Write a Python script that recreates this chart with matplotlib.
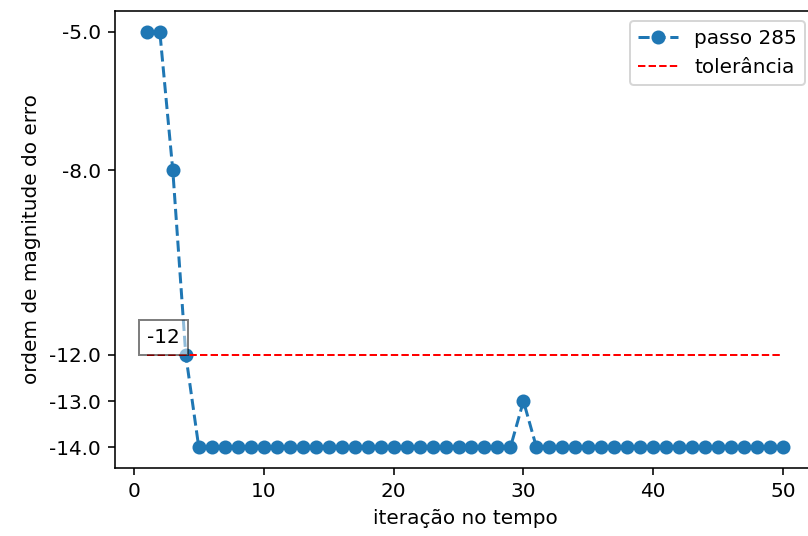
import matplotlib
matplotlib.use("Agg")
import matplotlib.pyplot as plt

# iteracoes no tempo e ordem de magnitude do erro (passo 285)
iteracoes = list(range(1, 51))
erro = [-5, -5, -8, -12,
        -14, -14, -14, -14, -14, -14, -14, -14, -14, -14,
        -14, -14, -14, -14, -14, -14, -14, -14, -14, -14,
        -14, -14, -14, -14, -14,
        -13,
        -14, -14, -14, -14, -14, -14, -14, -14, -14, -14,
        -14, -14, -14, -14, -14, -14, -14, -14, -14, -14]
tolerancia = -12
yticks = [-5, -8, -12, -13, -14]

fig = plt.figure(figsize=(808 / 144, 536 / 144), dpi=144)
ax = fig.add_axes([115 / 808, 68 / 536, 700 / 808, 457 / 536])

ax.plot(iteracoes, erro, "--o", label="passo 285")
ax.plot(iteracoes, [tolerancia] * len(iteracoes), "r--", linewidth=1, label="tolerância")
ax.text(1, -11.75, str(tolerancia), bbox=dict(facecolor="white", alpha=0.5))

ax.set_yticks(yticks)
ax.set_yticklabels([str(float(v)) for v in yticks])
ax.set_xlabel("iteração no tempo")
ax.set_ylabel("ordem de magnitude do erro")
ax.legend(loc="upper right")

fig.savefig("out.png", dpi=144)
